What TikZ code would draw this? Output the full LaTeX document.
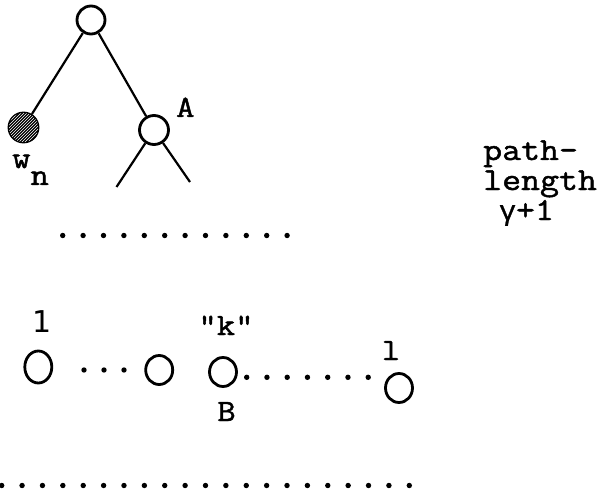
\documentclass[tikz,border=0pt]{standalone}
\usepackage{fontspec}
\setmonofont[FakeStretch=1.15,FakeBold=1.5]{Latin Modern Mono}
\newfontfamily\grfont[FakeBold=1]{Liberation Mono}
\newfontfamily\lsansfont{DejaVu Sans}
\usetikzlibrary{patterns,shapes.geometric}
\begin{document}
\begin{tikzpicture}[x=1pt,y=-1pt,
  vtx/.style={circle,draw,line width=2.8pt,minimum size=28pt,inner sep=0pt},
  ovx/.style={ellipse,draw,line width=2.8pt,minimum width=27pt,minimum height=29pt,inner sep=0pt},
  edge/.style={line width=2.2pt},
  lbl/.style={inner sep=0pt,font=\ttfamily\fontsize{31}{31}\selectfont},
  biglbl/.style={inner sep=0pt,font=\ttfamily\fontsize{32}{32}\selectfont},
  dotmark/.style={fill=black}]
\useasboundingbox (0,0) rectangle (610,497);
% tree
\node[vtx] (root) at (91,20) {};
\node[vtx,minimum size=29pt,fill=black,postaction={pattern=north east lines,pattern color=white}] (wn) at (23.5,127.5) {};
\node[vtx,minimum size=29pt] (A) at (154,130) {};
\coordinate (al) at (116.5,187);
\coordinate (ar) at (190,182);
\draw[edge] (root) -- (wn);
\draw[edge] (root) -- (A);
\draw[edge] (A) -- (al);
\draw[edge] (A) -- (ar);
\node[lbl,anchor=base west] (Alab) at (176,117) {A};
\node[lbl,anchor=base west] (wnlab) at (12,168) {w\raisebox{-17pt}{n}};
% middle dotted row
\foreach \i in {0,...,11} \fill[dotmark] (62.7+\i*20.4,235.5) circle (2.7);
% bottom row of nodes
\node[ovx,minimum height=32pt] (c1) at (38.3,367) {};
\node[ovx] (c2) at (159.2,370) {};
\node[ovx] (c3) at (223,372) {};
\node[ovx] (c4) at (399,388) {};
\foreach \i in {0,1,2} \fill[dotmark] (84+\i*20,370) circle (2.7);
\foreach \i in {0,...,6} \fill[dotmark] (246.7+\i*20.25,377.3) circle (2.7);
\node[inner sep=0pt,anchor=base,font=\lsansfont\fontsize{30}{30}\selectfont] (one) at (41.7,332) {1};
\node[lbl,anchor=base] (klab) at (226,335) {"k"};
\node[lbl,anchor=base] (llab) at (391,360) {l};
\node[lbl,anchor=base] (Blab) at (226.5,421) {B};
% bottom dotted row
\foreach \i in {0,...,20} \fill[dotmark] (1.7+\i*20.38,485.5) circle (2.7);
% path-length text
\node[biglbl,anchor=base west] (t1) at (483,160) {path-};
\node[biglbl,anchor=base west] (t2) at (483,190) {length};
\node[biglbl,anchor=base west] (t3) at (499,220) {{\grfont\fontsize{28}{28}\selectfont γ}+1};
\end{tikzpicture}
\end{document}
